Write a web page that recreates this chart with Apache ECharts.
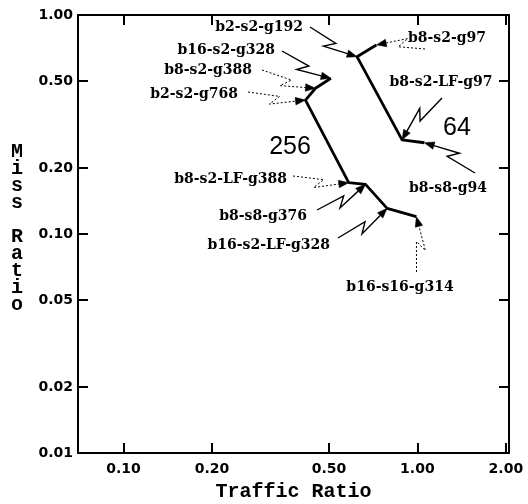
<!DOCTYPE html>
<html><head><meta charset="utf-8">
<script src="https://cdn.jsdelivr.net/npm/echarts@6/dist/echarts.min.js"></script>
<style>html,body{margin:0;padding:0;background:#fff}#c{width:528px;height:504px}</style>
</head><body><div id="c"></div>
<script>
// ---- data ----
const xTicks = [0.1, 0.2, 0.5, 1, 2];
const yTicks = [0.01, 0.02, 0.05, 0.1, 0.2, 0.5, 1];

const names256   = ['b16-s2-g328','b8-s2-g388','b2-s2-g768','b8-s2-LF-g388','b8-s8-g376','b16-s2-LF-g328','b16-s16-g314'];
const traffic256 = [0.508, 0.450, 0.416, 0.584, 0.666, 0.789, 0.992];
const miss256    = [0.514, 0.463, 0.409, 0.1715, 0.1686, 0.131, 0.120];

const names64   = ['b8-s2-g97','b2-s2-g192','b8-s2-LF-g97','b8-s8-g94'];
const traffic64 = [0.725, 0.623, 0.887, 1.056];
const miss64    = [0.730, 0.645, 0.269, 0.261];

// ---- annotation layout (pixel positions of label texts and leader starts) ----
const labelLayout = {
  'b2-s2-g192':     {tx:303, ty:27,  align:'right',  sx:310, sy:27,  dash:false},
  'b16-s2-g328':    {tx:275, ty:50,  align:'right',  sx:282, sy:51,  dash:false},
  'b8-s2-g388':     {tx:252, ty:70,  align:'right',  sx:262, sy:70,  dash:true},
  'b2-s2-g768':     {tx:238, ty:94,  align:'right',  sx:248, sy:92,  dash:true},
  'b8-s2-LF-g388':  {tx:287, ty:179, align:'right',  sx:293, sy:176, dash:true},
  'b8-s8-g376':     {tx:307, ty:216, align:'right',  sx:317, sy:210, dash:false},
  'b16-s2-LF-g328': {tx:330, ty:245, align:'right',  sx:338, sy:238, dash:false},
  'b16-s16-g314':   {tx:400, ty:287, align:'center', sx:416.5, sy:272, dash:true},
  'b8-s2-g97':      {tx:408, ty:38,  align:'left',   sx:425, sy:49,  dash:true},
  'b8-s2-LF-g97':   {tx:441, ty:82,  align:'center', sx:442, sy:98,  dash:false},
  'b8-s8-g94':      {tx:448, ty:188, align:'center', sx:475, sy:173, dash:false}
};

const tickLabelFont = {fontFamily:'DejaVu Sans', fontWeight:'bold', fontSize:14, color:'#000'};
const axisLineStyle = {color:'#000', width:2};

function xAxisCfg(pos, showLabel){
  return {
    type:'log', min:0.07, max:2.05, position:pos,
    axisLine:{show:true, onZero:false, lineStyle:axisLineStyle},
    axisTick:{show:true, inside:true, length:10, customValues:xTicks, lineStyle:{color:'#000', width:2}},
    axisLabel:Object.assign({show:showLabel, customValues:xTicks, margin:9, formatter:v=>Number(v).toFixed(2)}, tickLabelFont),
    splitLine:{show:false}, minorTick:{show:false}, minorSplitLine:{show:false},
    name: showLabel ? 'Traffic Ratio' : '',
    nameLocation:'middle', nameGap:29,
    nameTextStyle:{fontFamily:'Liberation Mono', fontWeight:'bold', fontSize:20, color:'#000'}
  };
}
function yAxisCfg(pos, showLabel){
  return {
    type:'log', min:0.01, max:1, position:pos,
    axisLine:{show:true, onZero:false, lineStyle:axisLineStyle},
    axisTick:{show:true, inside:true, length:10, customValues:yTicks, lineStyle:{color:'#000', width:2}},
    axisLabel:Object.assign({show:showLabel, customValues:yTicks, margin:5, formatter:v=>Number(v).toFixed(2)}, tickLabelFont),
    splitLine:{show:false}, minorTick:{show:false}, minorSplitLine:{show:false}
  };
}

const chart = echarts.init(document.getElementById('c'), null, {renderer:'canvas'});
chart.setOption({
  animation:false,
  backgroundColor:'#fff',
  grid:{left:78, right:19, top:15, bottom:51, containLabel:false, outerBoundsMode:'none'},
  xAxis:[xAxisCfg('bottom', true), xAxisCfg('top', false)],
  yAxis:[yAxisCfg('left', true), yAxisCfg('right', false)],
  series:[
    {name:'256', type:'line', xAxisIndex:0, yAxisIndex:0, showSymbol:false, silent:true,
     lineStyle:{color:'#000', width:2.8}, data:traffic256.map((x,i)=>[x, miss256[i]])},
    {name:'64', type:'line', xAxisIndex:0, yAxisIndex:0, showSymbol:false, silent:true,
     lineStyle:{color:'#000', width:2.8}, data:traffic64.map((x,i)=>[x, miss64[i]])}
  ]
});

// ---- annotations: texts and zigzag arrow leaders pointing at the data points ----
const graphics = [];
const labelFont = 'bold 14px "DejaVu Serif"';
function addLeader(name, px, py){
  const L = labelLayout[name];
  graphics.push({type:'text', x:L.tx, y:L.ty, silent:true,
    style:{text:name, font:labelFont, fill:'#000', align:L.align, verticalAlign:'middle'}});
  const sx=L.sx, sy=L.sy;
  const vx=px-sx, vy=py-sy, len=Math.hypot(vx,vy);
  const dx=vx/len, dy=vy/len, nx=-dy, ny=dx;
  const bx=sx+0.55*len*dx, by=sy+0.55*len*dy;
  const cx=bx-9*dx+9*nx, cy=by-9*dy+9*ny;
  const ex=px-cx, ey=py-cy, el=Math.hypot(ex,ey);
  const ux=ex/el, uy=ey/el, wx=-uy, wy=ux;
  const ah=10, aw=3.8;
  const baseX=px-ah*ux, baseY=py-ah*uy;
  graphics.push({type:'polyline', silent:true,
    shape:{points:[[sx,sy],[bx,by],[cx,cy],[baseX,baseY]]},
    style:{stroke:'#000', fill:null, lineWidth:L.dash?1:1.4, lineDash:L.dash?[2,2]:null}});
  graphics.push({type:'polygon', silent:true,
    shape:{points:[[px,py],[baseX+aw*wx, baseY+aw*wy],[baseX-aw*wx, baseY-aw*wy]]},
    style:{fill:'#000', stroke:'#000', lineWidth:0.5}});
}
function toPx(x,y){ return chart.convertToPixel({xAxisIndex:0, yAxisIndex:0}, [x,y]); }
names256.forEach((n,i)=>{ const p=toPx(traffic256[i], miss256[i]); addLeader(n, p[0], p[1]); });
names64.forEach((n,i)=>{ const p=toPx(traffic64[i], miss64[i]); addLeader(n, p[0], p[1]); });

graphics.push({type:'text', x:290, y:147, silent:true,
  style:{text:'256', font:'25px "Liberation Sans"', fill:'#000', align:'center', verticalAlign:'middle'}});
graphics.push({type:'text', x:457, y:128, silent:true,
  style:{text:'64', font:'25px "Liberation Sans"', fill:'#000', align:'center', verticalAlign:'middle'}});
graphics.push({type:'text', x:17, y:228, silent:true,
  style:{text:'M\ni\ns\ns\n\nR\na\nt\ni\no', font:'bold 20px "Liberation Mono"', fill:'#000',
         align:'center', verticalAlign:'middle', lineHeight:17}});

chart.setOption({graphic:graphics});
</script>
</body></html>
